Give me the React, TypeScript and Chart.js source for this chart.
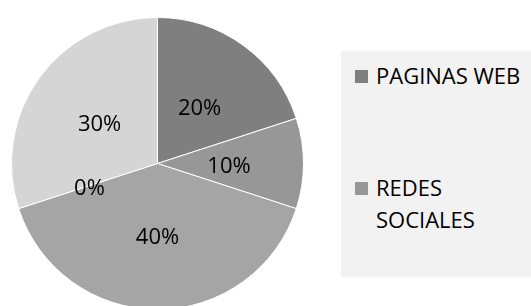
import React, { useEffect, useRef } from "react";
import { Chart, registerables } from "chart.js";

Chart.register(...registerables);

const categories = ["PAGINAS WEB", "REDES SOCIALES", "OTROS", "NINGUNO", "TODOS"];
const values = [20, 10, 40, 0, 30];
const valueLabels = ["20%", "10%", "40%", "0%", "30%"];
const sliceColors = ["#7f7f7f", "#979797", "#a5a5a5", "#bdbdbd", "#d5d5d5"];
const legendShown = ["PAGINAS WEB", "REDES SOCIALES"];

const FONT = "'Open Sans', 'Noto Sans', sans-serif";

const labelPlugin = {
  id: "pieLabels",
  afterDatasetsDraw(chart: any) {
    const ctx = chart.ctx;
    const meta = chart.getDatasetMeta(0);
    ctx.save();
    ctx.fillStyle = "#000";
    ctx.font = `22px ${FONT}`;
    ctx.textAlign = "center";
    ctx.textBaseline = "middle";
    meta.data.forEach((arc: any, i: number) => {
      const { x, y, startAngle, endAngle, outerRadius } = arc.getProps(
        ["x", "y", "startAngle", "endAngle", "outerRadius"],
        true
      );
      const mid = (startAngle + endAngle) / 2;
      const r = outerRadius * 0.49;
      ctx.fillText(valueLabels[i], x + Math.cos(mid) * r, y + Math.sin(mid) * r + 3);
    });
    ctx.restore();
  },
};

export default function App() {
  const ref = useRef<HTMLCanvasElement | null>(null);
  useEffect(() => {
    if (!ref.current) return;
    const chart = new Chart(ref.current, {
      type: "pie",
      data: {
        labels: categories,
        datasets: [
          {
            data: values,
            backgroundColor: sliceColors,
            borderColor: "#ffffff",
            borderWidth: 1,
          },
        ],
      },
      options: {
        responsive: false,
        animation: false,
        layout: { padding: { left: 11, right: 227, top: 17, bottom: 10 } },
        plugins: { legend: { display: false }, tooltip: { enabled: false } },
      },
      plugins: [labelPlugin],
    });
    return () => chart.destroy();
  }, []);

  return (
    <div
      style={{
        position: "fixed",
        left: 0,
        top: 0,
        width: 531,
        height: 306,
        overflow: "hidden",
        background: "#ffffff",
        fontFamily: FONT,
      }}
    >
      <canvas ref={ref} width={531} height={320} style={{ position: "absolute", left: 0, top: 0 }} />
      <div
        style={{
          position: "absolute",
          left: 341,
          top: 51,
          width: 190,
          height: 226,
          background: "#f2f2f2",
        }}
      >
        {legendShown.map((name, i) => (
          <div
            key={name}
            style={{
              position: "absolute",
              left: 14,
              top: i === 0 ? 8 : 120,
              display: "flex",
              alignItems: "flex-start",
            }}
          >
            <div
              style={{
                width: 13,
                height: 13,
                marginTop: 11,
                background: sliceColors[i],
                flex: "none",
              }}
            />
            <div
              style={{
                marginLeft: 8,
                width: i === 0 ? 170 : 110,
                fontSize: 22,
                lineHeight: "32px",
                color: "#000",
                whiteSpace: i === 0 ? "nowrap" : "normal",
              }}
            >
              {name}
            </div>
          </div>
        ))}
      </div>
    </div>
  );
}
